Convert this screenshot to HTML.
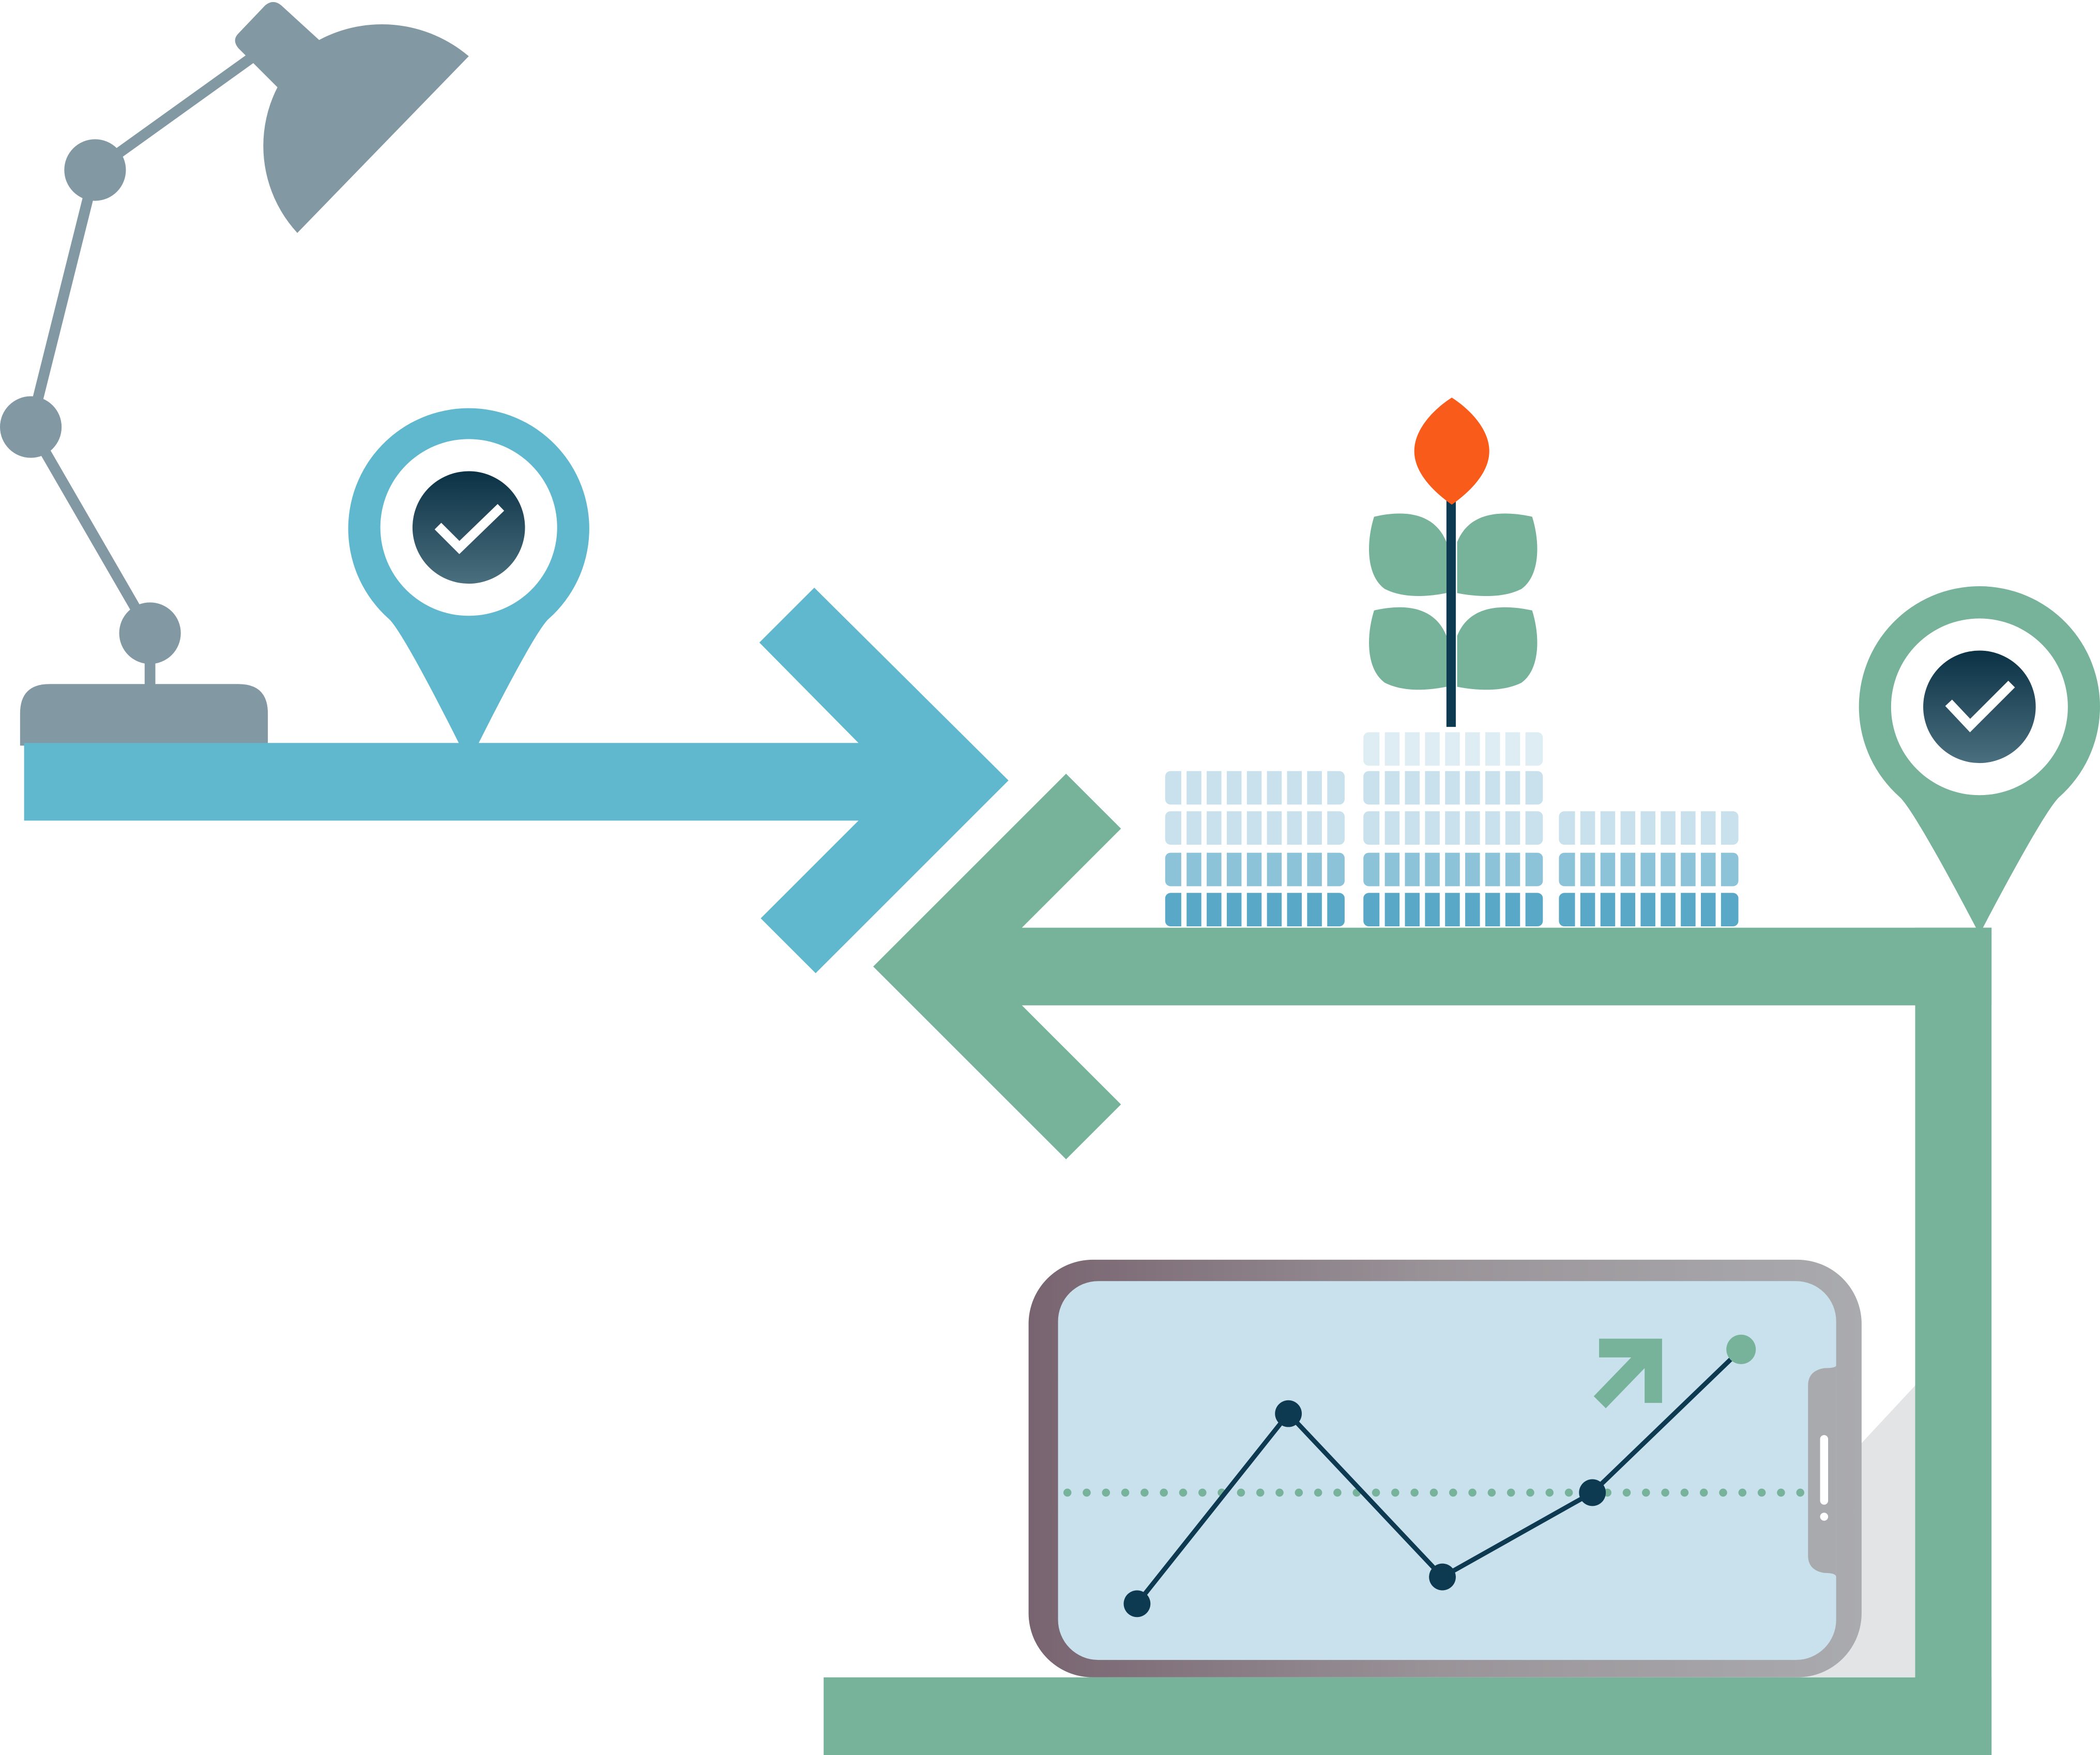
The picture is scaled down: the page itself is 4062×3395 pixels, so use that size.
<!DOCTYPE html>
<html><head><meta charset="utf-8"><style>
html,body{margin:0;padding:0;background:#fff;}
svg{display:block;width:4062px;height:3395px;}
</style></head><body>
<svg viewBox="0 0 1568 1311" preserveAspectRatio="none" xmlns="http://www.w3.org/2000/svg">
<defs>
<linearGradient id="dk" x1="0" y1="0" x2="0" y2="1"><stop offset="0" stop-color="#0b3145"/><stop offset="1" stop-color="#4a6f7e"/></linearGradient>
<linearGradient id="ph" x1="0" y1="0" x2="1" y2="0"><stop offset="0" stop-color="#786470"/><stop offset="0.5" stop-color="#9a9499"/><stop offset="1" stop-color="#aaabaf"/></linearGradient>
</defs>
<!-- lamp -->
<g fill="#8299a3" stroke="none">
<path d="M15,557 V533 Q15,511 37,511 H178 Q200,511 200,533 V557 Z"/>
<rect x="108" y="490" width="8" height="24"/>
<g stroke="#8299a3" stroke-width="8"><line x1="112" y1="473" x2="23" y2="319"/><line x1="23" y1="319" x2="71" y2="127"/><line x1="71" y1="127" x2="195" y2="38"/></g>
<circle cx="112" cy="473" r="23"/><circle cx="23" cy="319" r="23"/><circle cx="71" cy="127" r="23"/>
<path d="M178,25 L198,4 Q204,-1 210,4 L245,36 L210,68 L178,36 Q173,30 178,25 Z"/>
<path d="M350,42 L222,174 A96,96 0 0 1 238,30 A100,100 0 0 1 350,42 Z"/>
</g>
<!-- blue arrow -->
<g fill="#60b8cf">
<rect x="18" y="555" width="625" height="58"/>
<polygon points="567,480 608,439 753,583 609,727 568,686 641,613 641,555"/>
<path d="M290,462 A90,90 0 1 1 410,462 C398,472 350,570 350,570 C350,570 302,472 290,462 Z"/>
</g>
<circle cx="350" cy="394" r="66" fill="#fff"/>
<circle cx="350" cy="394" r="42" fill="url(#dk)"/>
<polyline points="327,393 343,409 374,379" fill="none" stroke="#fff" stroke-width="7"/>
<!-- green path -->
<g fill="#76b39a">
<rect x="760" y="693" width="727" height="58"/>
<rect x="1430" y="693" width="57" height="618"/>
<rect x="615" y="1253" width="872" height="58"/>
<polygon points="796,578 837,619 763,693 763,751 837,825 796,866 652,722"/>
<path d="M1418,595 A90,90 0 1 1 1538,595 C1526,605 1478,698 1478,698 C1478,698 1430,605 1418,595 Z"/>
</g>
<circle cx="1478" cy="528" r="66" fill="#fff"/>
<circle cx="1478" cy="528" r="42" fill="url(#dk)"/>
<polyline points="1455,525 1471,542 1502,511" fill="none" stroke="#fff" stroke-width="7"/>
<!-- coins -->
<g fill="#5aa8c8"><rect x="870" y="667" width="134" height="25" rx="4"/><rect x="1018" y="667" width="134" height="25" rx="4"/><rect x="1164" y="667" width="134" height="25" rx="4"/></g>
<g fill="#8dc3d9"><rect x="870" y="637" width="134" height="25" rx="4"/><rect x="1018" y="637" width="134" height="25" rx="4"/><rect x="1164" y="637" width="134" height="25" rx="4"/></g>
<g fill="#c8e1ec"><rect x="870" y="606" width="134" height="25" rx="4"/><rect x="1018" y="606" width="134" height="25" rx="4"/><rect x="1164" y="606" width="134" height="25" rx="4"/>
<rect x="870" y="576" width="134" height="25" rx="4"/><rect x="1018" y="576" width="134" height="25" rx="4"/></g>
<rect x="1018" y="547" width="134" height="25" rx="4" fill="#deedf4"/>
<g stroke="#fff" stroke-width="4">
<path d="M884,576V692M899,576V692M914,576V692M929,576V692M944,576V692M959,576V692M974,576V692M989,576V692"/>
<path d="M1032,547V692M1047,547V692M1062,547V692M1077,547V692M1092,547V692M1107,547V692M1122,547V692M1137,547V692"/>
<path d="M1178,606V692M1193,606V692M1208,606V692M1223,606V692M1238,606V692M1253,606V692M1268,606V692M1283,606V692"/>
</g>
<!-- plant -->
<g fill="#76b39a">
<path d="M1080,405 C1072,385 1052,380 1026,386 C1020,405 1020,430 1034,440 C1050,448 1070,445 1080,443 Z"/>
<path d="M1080,475 C1072,455 1052,450 1026,456 C1020,475 1020,500 1034,510 C1050,518 1070,515 1080,513 Z"/>
<path d="M1088,405 C1096,385 1116,380 1144,386 C1150,405 1150,430 1136,440 C1120,448 1098,445 1088,443 Z"/>
<path d="M1088,475 C1096,455 1116,450 1144,456 C1150,475 1150,500 1136,510 C1120,518 1098,515 1088,513 Z"/>
</g>
<rect x="1080" y="370" width="7" height="173" fill="#0d3a50"/>
<path d="M1084,297 C1070,306 1056,321 1056,337 C1056,353 1070,367 1084,377 C1098,367 1112,353 1112,337 C1112,321 1098,306 1084,297 Z" fill="#f95c1a"/>
<!-- phone -->
<polygon points="1390,1078 1430,1035 1430,1253 1340,1253" fill="#e3e4e6"/>
<rect x="768" y="941" width="622" height="312" rx="48" fill="url(#ph)"/>
<rect x="790" y="957" width="581" height="283" rx="30" fill="#c8e1ec"/>
<path d="M1371,1020 Q1371,1022 1362,1022 Q1350,1024 1350,1035 V1162 Q1350,1173 1362,1175 Q1371,1175 1371,1178 Z" fill="#a9aaae"/>
<rect x="1359" y="1072" width="6" height="52" rx="3" fill="#fff"/>
<circle cx="1362" cy="1133" r="3" fill="#fff"/>
<line x1="797" y1="1115" x2="1345" y2="1115" stroke="#76b39a" stroke-width="6" stroke-linecap="round" stroke-dasharray="0 14.4"/>
<polyline points="849,1198 962,1056 1077,1178 1189,1115 1300,1008" fill="none" stroke="#0d3a50" stroke-width="3.5"/>
<g fill="#0d3a50"><circle cx="849" cy="1198" r="10"/><circle cx="962" cy="1056" r="10"/><circle cx="1077" cy="1178" r="10"/><circle cx="1189" cy="1115" r="10"/></g>
<circle cx="1300" cy="1008" r="11" fill="#76b39a"/>
<polygon points="1194,1000 1241,1000 1241,1048 1228,1048 1228,1022 1199,1052 1190,1043 1218,1014 1194,1014" fill="#76b39a"/>
</svg>
</body></html>
